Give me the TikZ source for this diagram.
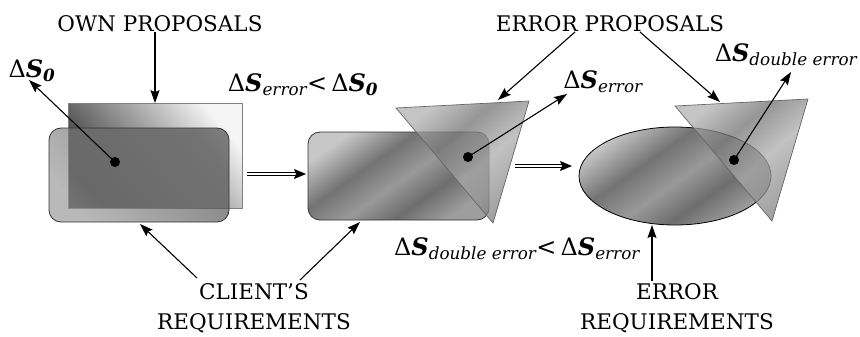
\documentclass[tikz,border=0pt]{standalone}
\usepackage{fontspec}
\setmainfont{DejaVu Serif}
\usepackage{amsmath}
\usetikzlibrary{arrows.meta,shapes.geometric,calc}
\pgfdeclarehorizontalshading{metalA}{100bp}{color(0bp)=(black!22); color(25bp)=(black!22); color(40bp)=(black!55); color(52bp)=(black!40); color(63bp)=(black!57); color(75bp)=(black!38); color(100bp)=(black!38)}
\pgfdeclarehorizontalshading{metalT}{100bp}{color(0bp)=(black!30); color(25bp)=(black!30); color(40bp)=(black!55); color(55bp)=(black!32); color(75bp)=(black!50); color(100bp)=(black!50)}
\newcommand{\dSlab}[1]{Δ\textbf{\textit{S}}$_{\textit{#1}}$}
\tikzset{
  captext/.style={font=\fontsize{21.5}{30}\selectfont, align=center, inner sep=0pt},
  labtext/.style={font=\fontsize{24}{28}\selectfont, inner sep=0pt},
  arr/.style={line width=1.1pt, -{Stealth[length=13pt,width=9pt,inset=2pt]}},
  dbl/.style={double, double distance=2.4pt, line width=0.9pt, -{Stealth[length=12pt,width=10pt,inset=2pt]}},
  dotnode/.style={circle, fill=black, inner sep=0pt, minimum size=10pt},
  ownbox/.style={draw=black!50, line width=0.7pt, top color=black!4, bottom color=black!80, shading angle=-50, minimum width=174pt, minimum height=105pt, inner sep=0pt},
  c1box/.style={draw=black!80, line width=0.8pt, rounded corners=12pt, top color=black!75, bottom color=black!42, shading angle=-50, fill opacity=0.65, draw opacity=1, inner sep=0pt},
  metalbox/.style={draw=black!80, line width=0.8pt, rounded corners=12pt, shading=metalA, shading angle=-55, inner sep=0pt},
  tri/.style={draw=black!60, line width=0.7pt, shading=metalT, fill opacity=0.75, shading angle=-50},
}
\begin{document}
\begin{tikzpicture}[x=1pt,y=-1pt]
\useasboundingbox (0,0) rectangle (860,337);
% panel 1
\node[ownbox] (own) at (155,156) {};
\node[c1box, minimum width=180pt, minimum height=94pt] (c1) at (139,175) {};
\node[dotnode] (d1) at (115,162) {};
% panel 2
\node[metalbox, minimum width=181pt, minimum height=88pt] (c2) at (398.5,176) {};
\coordinate (t2a) at (396,108);
\coordinate (t2b) at (529,101);
\coordinate (t2c) at (493,223);
\shadedraw[tri] (t2a) -- (t2b) -- (t2c) -- cycle;
\node[dotnode] (d2) at (468,157) {};
% panel 3
\node[ellipse, draw=black, line width=0.8pt, shading=metalA, shading angle=-55, minimum width=192pt, minimum height=98pt, inner sep=0pt] (el) at (675,176) {};
\coordinate (t3a) at (675,106);
\coordinate (t3b) at (808,99);
\coordinate (t3c) at (772,221);
\shadedraw[tri] (t3a) -- (t3b) -- (t3c) -- cycle;
\node[dotnode] (d3) at (734,160) {};
% texts
\node[captext] (op) at (160,24) {OWN PROPOSALS};
\node[captext] (ep) at (610,24) {ERROR PROPOSALS};
\node[captext] (creq) at (254,308) {CLIENT'S\\REQUIREMENTS};
\node[captext] (ereq) at (677,308) {ERROR\\REQUIREMENTS};
\node[labtext] (s0) at (32,71) {Δ\textbf{\textit{S}}$_{\textbf{\textit{0}}}$};
\node[labtext] (cmp1) at (303,85) {\dSlab{error}<\,Δ\textbf{\textit{S}}$_{\textbf{\textit{0}}}$};
\node[labtext] (se) at (603,82) {\dSlab{error}};
\node[labtext] (sde) at (786,55) {\dSlab{double error}};
\node[labtext] (cmp2) at (517,249) {\dSlab{double error}<\,\dSlab{error}};
% coordinates for connector ends
\coordinate (s0tip) at (29,80);
\coordinate (setip) at (567,94);
\coordinate (sdetip) at (791,72);
\coordinate (ca1) at (197,278);
\coordinate (ca1tip) at (140,224);
\coordinate (ca2) at (300,280);
\coordinate (ca2tip) at (360,222);
\coordinate (ea1) at (575,32);
\coordinate (ea1tip) at (498,100);
\coordinate (ea2) at (640,32);
\coordinate (ea2tip) at (720,102);
\coordinate (er) at (652,281);
\coordinate (ertip) at (652,225);
\coordinate (da1) at (247,174);
\coordinate (da1tip) at (306,174);
\coordinate (da2) at (515,166);
\coordinate (da2tip) at (572,166);
% connectors
\draw[arr] (d1.center) -- (s0tip);
\draw[arr] (op.south -| own.north) -- (own.north);
\draw[arr] (ca1) -- (ca1tip);
\draw[arr] (ca2) -- (ca2tip);
\draw[dbl] (da1) -- (da1tip);
\draw[arr] (d2.center) -- (setip);
\draw[arr] (ea1) -- (ea1tip);
\draw[arr] (ea2) -- (ea2tip);
\draw[dbl] (da2) -- (da2tip);
\draw[arr] (d3.center) -- (sdetip);
\draw[arr] (er) -- (ertip);
\end{tikzpicture}
\end{document}
